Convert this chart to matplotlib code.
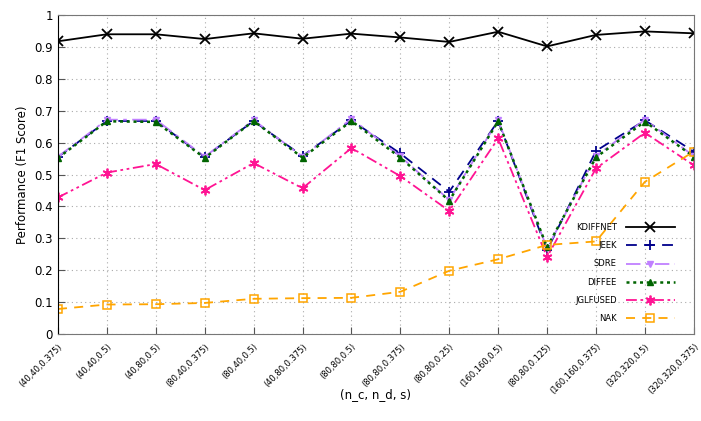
import numpy as np
import matplotlib.pyplot as plt

# 各配置下不同方法的F1分数
configs = ['(40,40,0.375)', '(40,40,0.5)', '(40,80,0.5)', '(80,40,0.375)', '(80,40,0.5)',
           '(40,80,0.375)', '(80,80,0.5)', '(80,80,0.375)', '(80,80,0.25)', '(160,160,0.5)',
           '(80,80,0.125)', '(160,160,0.375)', '(320,320,0.5)', '(320,320,0.375)']
kdiffnet = [0.918, 0.940, 0.940, 0.925, 0.943, 0.926, 0.942, 0.930, 0.916, 0.948, 0.902, 0.938, 0.949, 0.943]
jeek = [0.555, 0.668, 0.668, 0.555, 0.668, 0.558, 0.670, 0.566, 0.446, 0.668, 0.262, 0.574, 0.670, 0.572]
sdre = [0.556, 0.672, 0.672, 0.556, 0.671, 0.556, 0.675, 0.557, 0.420, 0.670, 0.268, 0.558, 0.672, 0.558]
diffee = [0.552, 0.667, 0.665, 0.552, 0.668, 0.553, 0.668, 0.553, 0.418, 0.667, 0.272, 0.554, 0.666, 0.556]
jglfused = [0.428, 0.506, 0.533, 0.451, 0.536, 0.457, 0.583, 0.495, 0.386, 0.613, 0.241, 0.519, 0.631, 0.529]
nak = [0.078, 0.092, 0.093, 0.097, 0.110, 0.112, 0.113, 0.132, 0.198, 0.234, 0.279, 0.290, 0.477, 0.572]

x = np.arange(len(configs))

fig = plt.figure(figsize=(7.01, 4.21), dpi=100)
ax = fig.add_axes([0.0827, 0.207, 0.907, 0.757])

ax.plot(x, kdiffnet, color='black', linestyle='-', marker='x', markersize=6.5, mew=1.3, lw=1.3, label='KDIFFNET')
ax.plot(x, jeek, color='#00008b', linestyle=(0, (6, 4)), marker='+', markersize=7.5, mew=1.3, lw=1.3, label='JEEK')
ax.plot(x, sdre, color='#c080ff', linestyle=(0, (8, 3, 2, 3)), marker='v', markersize=4.5, lw=1.3, label='SDRE')
ax.plot(x, diffee, color='#006400', linestyle=(0, (1.2, 1.5)), marker='^', markersize=4.5, lw=1.8, label='DIFFEE')
ax.plot(x, jglfused, color='#ff1493', linestyle=(0, (6, 2, 1.5, 2, 1.5, 2)), marker=(6, 2, 0), markersize=7,
        mew=1.3, lw=1.3, label='JGLFUSED')
ax.plot(x, nak, color='#ffa500', linestyle=(0, (5, 4)), marker='s', markersize=5.5, mfc='none', mew=1.1, lw=1.3,
        label='NAK')

ax.set_xlim(0, len(configs) - 1)
ax.set_ylim(0, 1)
ax.set_yticks(np.arange(0, 1.01, 0.1))
ax.set_yticklabels(['0', '0.1', '0.2', '0.3', '0.4', '0.5', '0.6', '0.7', '0.8', '0.9', '1'], fontsize=8.5)
ax.set_xticks(x)
ax.set_xticklabels(configs, rotation=45, ha='right', rotation_mode='anchor', fontsize=6)
ax.tick_params(direction='in', length=5, color='#555555')
ax.tick_params(axis='x', pad=6)
ax.grid(True, linestyle=(0, (1, 3)), color='#aaaaaa', lw=0.8)
for side in ['top', 'right', 'bottom']:
    ax.spines[side].set_color('#777777')
ax.spines['left'].set_color('black')

ax.set_xlabel('(n_c, n_d, s)', fontsize=8.5, labelpad=-6)
ax.set_ylabel('Performance (F1 Score)', fontsize=8.5)

leg = ax.legend(loc='lower right', bbox_to_anchor=(675 / 701, 1 - 323 / 421), bbox_transform=fig.transFigure,
                frameon=False, fontsize=6, markerfirst=False, handlelength=5.9, labelspacing=1.1,
                handletextpad=1.1, borderpad=0, borderaxespad=0)
for t in leg.get_texts():
    t.set_ha('right')

fig.savefig('out.png', dpi=100)
